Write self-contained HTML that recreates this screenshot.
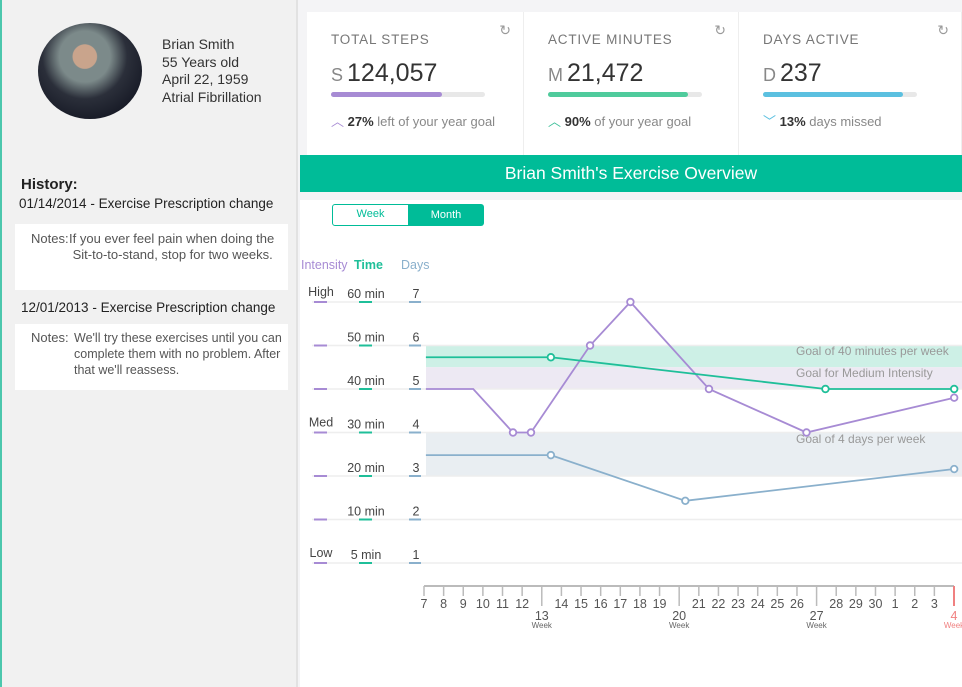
<!DOCTYPE html>
<html><head><meta charset="utf-8"><style>
*{box-sizing:border-box;margin:0;padding:0}
body{width:962px;height:687px;overflow:hidden;font-family:"Liberation Sans",sans-serif;background:#f4f4f6;position:relative;color:#333}
#left{position:absolute;left:0;top:0;width:298px;height:687px;background:#f1f1f1;border-right:2px solid #e2e2e2;border-left:2px solid #4cc7ad}
.abs{position:absolute}
.note{position:absolute;left:13px;width:273px;background:#fff;font-size:13px;color:#555;line-height:16px}
.card{position:absolute;top:12px;height:143px;background:#fff;border-right:1px solid #eee}
.card .t{position:absolute;left:24px;top:20px;font-size:13.5px;letter-spacing:.8px;color:#777}
.card .v{position:absolute;left:24px;top:47px;font-size:25px;color:#333}
.card .v span{font-size:18px;color:#888;margin-right:4px}
.card .bar{position:absolute;left:24px;top:80px;width:154px;height:5px;border-radius:3px;background:#e8e8e8}
.card .bar i{display:block;height:5px;border-radius:3px}
.card .s{position:absolute;left:24px;top:99px;font-size:13px;color:#888}
.card .s b{color:#333}
.card .r{position:absolute;right:12px;top:10px;font-size:14px;color:#999}
</style></head><body>
<div id="left">
  <div class="abs" style="left:36px;top:23px;width:104px;height:96px;border-radius:50%;background:radial-gradient(circle at 45% 35%,#c9a48c 0 14%,#7c8a8a 15% 30%,#2b2f3a 50%,#151824 80%)"></div>
  <div class="abs" style="left:160px;top:36px;font-size:14px;line-height:17.5px;color:#333">Brian Smith<br>55 Years old<br>April 22, 1959<br>Atrial Fibrillation</div>
  <div class="abs" style="left:19px;top:176px;font-size:15px;font-weight:bold;color:#222">History:</div>
  <div class="abs" style="left:17px;top:196px;font-size:13.5px;color:#222">01/14/2014 - Exercise Prescription change</div>
  <div class="note" style="top:224px;height:66px"><span class="abs" style="left:16px;top:7px">Notes:</span><span class="abs" style="left:54px;top:7px;width:215px">If you ever feel pain when doing the<br>&nbsp;Sit-to-to-stand, stop for two weeks.</span></div>
  <div class="abs" style="left:19px;top:300px;font-size:13.5px;color:#222">12/01/2013 - Exercise Prescription change</div>
  <div class="note" style="top:324px;height:66px"><span class="abs" style="left:16px;top:6px">Notes:</span><span class="abs" style="left:59px;top:6px;white-space:nowrap;font-size:12.5px">We'll try these exercises until you can<br>complete them with no problem. After<br>that we'll reassess.</span></div>
</div>

<div class="card" style="left:307px;width:217px">
  <div class="t">TOTAL STEPS</div><div class="r">↻</div>
  <div class="v"><span>S</span>124,057</div>
  <div class="bar"><i style="width:111px;background:#a78bd4"></i></div>
  <div class="s"><span style="color:#a78bd4">︿</span> <b>27%</b> left of your year goal</div>
</div>
<div class="card" style="left:524px;width:215px">
  <div class="t">ACTIVE MINUTES</div><div class="r">↻</div>
  <div class="v"><span>M</span>21,472</div>
  <div class="bar"><i style="width:140px;background:#4fcb9c"></i></div>
  <div class="s"><span style="color:#3cbf98">︿</span> <b>90%</b> of your year goal</div>
</div>
<div class="card" style="left:739px;width:223px">
  <div class="t">DAYS ACTIVE</div><div class="r">↻</div>
  <div class="v"><span>D</span>237</div>
  <div class="bar"><i style="width:140px;background:#5bc0e0"></i></div>
  <div class="s"><span style="color:#5bc0e0">﹀</span> <b>13%</b> days missed</div>
</div>
<div class="abs" style="left:300px;top:155px;width:662px;height:37px;background:#00bc98;color:#fff;font-size:17.5px;text-align:center;line-height:37px">Brian Smith's Exercise Overview</div>
<div class="abs" style="left:300px;top:200px;width:662px;height:487px;background:#fff"></div>
<div class="abs" style="left:332px;top:204px;width:77px;height:22px;border:1.5px solid #00bc98;border-radius:3px 0 0 3px;color:#00bc98;font-size:11px;text-align:center;line-height:19px">Week</div>
<div class="abs" style="left:408px;top:204px;width:76px;height:22px;background:#00bc98;border-radius:0 3px 3px 0;color:#fff;font-size:11px;text-align:center;line-height:22px">Month</div>

<svg class="abs" style="left:0;top:0" width="962" height="687">
<g id="g"></g>
</svg>
<script>
const dayLabels=["7","8","9","10","11","12","13","14","15","16","17","18","19","20","21","22","23","24","25","26","27","28","29","30","1","2","3","4"];
const weekIdx=[6,13,20,27];
const intensityLabels=["Low","","","Med","","","High"];
const timeLabels=["5 min","10 min","20 min","30 min","40 min","50 min","60 min"];
const daysLabels=["1","2","3","4","5","6","7"];
const intensityX=[0.1,2.6,4.7,5.65,8.77,10.9,15.05,20.2,28];
const intensityY=[5,5,4,4,6,7,5,4,4.8];
const intensityDot=[0,0,1,1,1,1,1,1,1];
const timeX=[0.1,6.7,21.2,28];
const timeY=[5.73,5.73,5,5];
const timeDot=[0,1,1,1];
const daysX=[0.1,6.7,13.8,28];
const daysY=[3.48,3.48,2.43,3.16];
const daysDot=[0,1,1,1];
const bands=[[6,5.5,"#cdf0e6","Goal of 40 minutes  per week",355],[5.5,5,"#ede9f3","Goal for Medium Intensity",377],[4,3,"#e9eef2","Goal of 4 days per week",443]];
const X=i=>424+i*530/27.99;
const Y=v=>302+(7-v)*43.5;
const g=document.getElementById('g');
const NS='http://www.w3.org/2000/svg';
function mk(t,a){const e=document.createElementNS(NS,t);for(const k in a)e.setAttribute(k,a[k]);g.appendChild(e);return e;}
mk('text',{x:301,y:269,'font-size':12.5,fill:'#a78bd4'}).textContent='Intensity';
mk('text',{x:354,y:269,'font-size':12.5,fill:'#1fbf99','font-weight':'bold'}).textContent='Time';
mk('text',{x:401,y:269,'font-size':12.5,fill:'#8ab0cc'}).textContent='Days';
bands.forEach((b,i)=>{
 const r=mk('rect',{x:426,y:Y(b[0]),width:536,height:Y(b[1])-Y(b[0]),fill:b[2]});
 
});
for(let k=0;k<7;k++){
 const v=k+1,y=Y(v);
 mk('line',{x1:312,x2:962,y1:y,y2:y,stroke:'#eee','stroke-width':1.5});
 mk('line',{x1:314,x2:327,y1:y,y2:y,stroke:'#a78bd4','stroke-width':2});
 mk('line',{x1:359,x2:372,y1:y,y2:y,stroke:'#1fbf99','stroke-width':2});
 mk('line',{x1:409,x2:421,y1:y,y2:y,stroke:'#8ab0cc','stroke-width':2});
 if(intensityLabels[k])mk('text',{x:321,y:y-6,'font-size':12.5,fill:'#444','text-anchor':'middle'}).textContent=intensityLabels[k];
 mk('text',{x:366,y:y-4,'font-size':12.5,fill:'#444','text-anchor':'middle'}).textContent=timeLabels[k];
 mk('text',{x:416,y:y-4,'font-size':12.5,fill:'#444','text-anchor':'middle'}).textContent=daysLabels[k];
}
bands.forEach(b=>{mk('text',{x:796,y:b[4],'font-size':12,fill:'#999'}).textContent=b[3];});
function series(xs,ys,dots,col,name){
 const p=mk('polyline',{points:xs.map((x,i)=>X(x)+','+Y(ys[i])).join(' '),fill:'none',stroke:col,'stroke-width':1.8});
 
 xs.forEach((x,i)=>{if(dots[i]){const c=mk('circle',{cx:X(x),cy:Y(ys[i]),r:3.3,fill:'#fff',stroke:col,'stroke-width':1.8});
 }});
}
series(daysX,daysY,daysDot,'#8ab0cc','days');
series(intensityX,intensityY,intensityDot,'#a78bd4','intensity');
series(timeX,timeY,timeDot,'#1fbf99','time');
mk('line',{x1:X(0),x2:X(27.99),y1:586,y2:586,stroke:'#bbb','stroke-width':2});
dayLabels.forEach((d,i)=>{
 const x=X(i*27.99/27),last=i===27,wk=weekIdx.includes(i)||last;
 mk('line',{x1:x,x2:x,y1:586,y2:wk?606:596,stroke:last?'#f08080':'#bbb','stroke-width':last?2:1.5});
 const t=mk('text',{x:x,y:wk?620:608,'font-size':12.5,fill:last?'#f08080':'#555','text-anchor':'middle'});t.textContent=d;
 if(wk)mk('text',{x:x,y:628,'font-size':8,fill:last?'#f08080':'#666','text-anchor':'middle'}).textContent='Week';
});
</script>
</body></html>
